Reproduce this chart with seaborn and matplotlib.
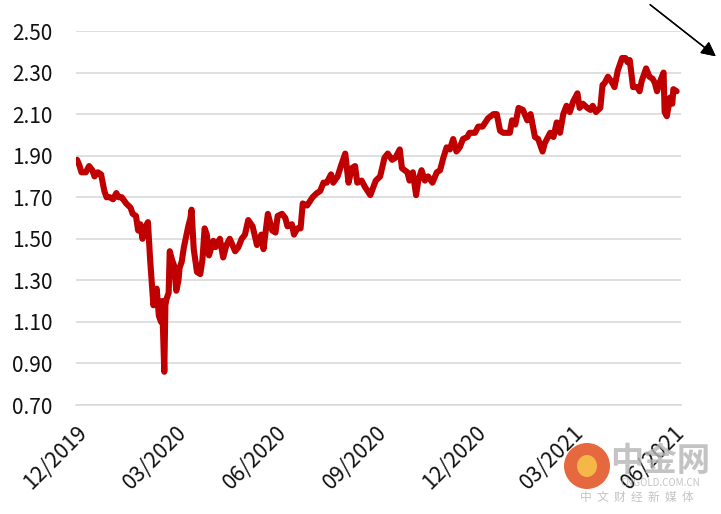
import pandas as pd
import matplotlib.pyplot as plt
import matplotlib.dates as mdates
from matplotlib.patches import Ellipse
import seaborn as sns

# Data
dates = [
    "2019-12-02", "2019-12-04", "2019-12-06", "2019-12-10", "2019-12-13", "2019-12-16",
    "2019-12-18", "2019-12-21", "2019-12-24", "2019-12-27", "2019-12-29", "2020-01-01",
    "2020-01-04", "2020-01-07", "2020-01-09", "2020-01-12", "2020-01-16", "2020-01-20",
    "2020-01-22", "2020-01-25", "2020-01-27", "2020-01-29", "2020-01-31", "2020-02-01",
    "2020-02-03", "2020-02-05", "2020-02-07", "2020-02-09", "2020-02-10", "2020-02-11",
    "2020-02-13", "2020-02-15", "2020-02-17", "2020-02-18", "2020-02-20", "2020-02-21",
    "2020-02-22", "2020-02-24", "2020-02-25", "2020-02-27", "2020-02-29", "2020-03-02",
    "2020-03-04", "2020-03-05", "2020-03-07", "2020-03-09", "2020-03-11", "2020-03-13",
    "2020-03-15", "2020-03-16", "2020-03-18", "2020-03-21", "2020-03-24", "2020-03-26",
    "2020-03-28", "2020-03-30", "2020-04-01", "2020-04-05", "2020-04-07", "2020-04-11",
    "2020-04-14", "2020-04-17", "2020-04-20", "2020-04-25", "2020-04-28", "2020-05-01",
    "2020-05-04", "2020-05-07", "2020-05-11", "2020-05-15", "2020-05-19", "2020-05-21",
    "2020-05-25", "2020-05-29", "2020-06-01", "2020-06-03", "2020-06-07", "2020-06-10",
    "2020-06-12", "2020-06-16", "2020-06-18", "2020-06-21", "2020-06-24", "2020-06-26",
    "2020-06-30", "2020-07-05", "2020-07-09", "2020-07-12", "2020-07-15", "2020-07-18",
    "2020-07-22", "2020-07-24", "2020-07-28", "2020-07-31", "2020-08-04", "2020-08-07",
    "2020-08-10", "2020-08-13", "2020-08-15", "2020-08-19", "2020-08-22", "2020-08-27",
    "2020-09-01", "2020-09-05", "2020-09-09", "2020-09-12", "2020-09-16", "2020-09-19",
    "2020-09-23", "2020-09-25", "2020-09-30", "2020-10-02", "2020-10-05", "2020-10-08",
    "2020-10-10", "2020-10-13", "2020-10-16", "2020-10-19", "2020-10-23", "2020-10-27",
    "2020-10-30", "2020-11-02", "2020-11-05", "2020-11-08", "2020-11-11", "2020-11-14",
    "2020-11-17", "2020-11-20", "2020-11-24", "2020-11-26", "2020-12-01", "2020-12-04",
    "2020-12-08", "2020-12-13", "2020-12-18", "2020-12-21", "2020-12-24", "2020-12-27",
    "2020-12-30", "2021-01-02", "2021-01-04", "2021-01-07", "2021-01-10", "2021-01-14",
    "2021-01-18", "2021-01-21", "2021-01-25", "2021-01-28", "2021-02-01", "2021-02-03",
    "2021-02-08", "2021-02-11", "2021-02-14", "2021-02-17", "2021-02-20", "2021-02-23",
    "2021-02-26", "2021-03-01", "2021-03-05", "2021-03-07", "2021-03-10", "2021-03-14",
    "2021-03-17", "2021-03-19", "2021-03-22", "2021-03-26", "2021-03-28", "2021-03-30",
    "2021-04-02", "2021-04-06", "2021-04-08", "2021-04-11", "2021-04-15", "2021-04-18",
    "2021-04-20", "2021-04-22", "2021-04-25", "2021-04-29", "2021-05-01", "2021-05-03",
    "2021-05-07", "2021-05-10", "2021-05-13", "2021-05-15", "2021-05-17", "2021-05-20",
    "2021-05-23", "2021-05-24", "2021-05-26", "2021-05-29", "2021-05-31", "2021-06-01",
    "2021-06-04",
]
values = [
    1.88, 1.855, 1.82, 1.82, 1.85, 1.83,
    1.80, 1.82, 1.81, 1.73, 1.70, 1.70,
    1.69, 1.72, 1.70, 1.70, 1.67, 1.65,
    1.62, 1.61, 1.54, 1.57, 1.50, 1.53,
    1.56, 1.58, 1.40, 1.25, 1.18, 1.20,
    1.26, 1.13, 1.10, 1.20, 0.86, 1.18,
    1.21, 1.24, 1.44, 1.40, 1.37, 1.25,
    1.30, 1.36, 1.39, 1.46, 1.51, 1.56,
    1.60, 1.64, 1.45, 1.34, 1.33, 1.40,
    1.55, 1.52, 1.42, 1.49, 1.46, 1.50,
    1.41, 1.47, 1.50, 1.44, 1.46, 1.50,
    1.52, 1.59, 1.56, 1.47, 1.52, 1.45,
    1.62, 1.54, 1.53, 1.61, 1.62, 1.60,
    1.56, 1.57, 1.52, 1.55, 1.55, 1.67,
    1.66, 1.70, 1.72, 1.73, 1.77, 1.77,
    1.81, 1.77, 1.80, 1.85, 1.91, 1.77,
    1.84, 1.85, 1.77, 1.78, 1.75, 1.71,
    1.78, 1.80, 1.89, 1.91, 1.88, 1.89,
    1.93, 1.84, 1.82, 1.78, 1.82, 1.71,
    1.78, 1.83, 1.78, 1.80, 1.77, 1.82,
    1.83, 1.89, 1.94, 1.93, 1.98, 1.92,
    1.94, 1.98, 1.99, 2.01, 2.01, 2.04,
    2.04, 2.08, 2.10, 2.10, 2.02, 2.01,
    2.01, 2.01, 2.07, 2.05, 2.13, 2.12,
    2.07, 2.10, 1.99, 1.98, 1.92, 1.96,
    2.01, 1.99, 2.06, 2.01, 2.10, 2.14,
    2.11, 2.16, 2.20, 2.13, 2.15, 2.13,
    2.12, 2.14, 2.11, 2.13, 2.24, 2.25,
    2.28, 2.25, 2.23, 2.31, 2.37, 2.37,
    2.35, 2.36, 2.23, 2.23, 2.21, 2.26,
    2.32, 2.28, 2.27, 2.25, 2.21, 2.26,
    2.30, 2.11, 2.09, 2.18, 2.15, 2.22,
    2.21,
]
y_ticks = [0.70, 0.90, 1.10, 1.30, 1.50, 1.70, 1.90, 2.10, 2.30, 2.50]

df = pd.DataFrame({"date": pd.to_datetime(dates), "value": values})

sns.set_style("white")
plt.rcParams["font.family"] = ["Noto Sans CJK SC", "DejaVu Sans"]

fig = plt.figure(figsize=(7.21, 5.14), dpi=100)
ax = fig.add_axes([76 / 721, 109 / 514, 605 / 721, 374 / 514])

sns.lineplot(data=df, x="date", y="value", ax=ax, color="#C00000",
             linewidth=4.4, solid_joinstyle="round", solid_capstyle="round")

ax.set_ylim(0.70, 2.50)
ax.set_yticks(y_ticks)
ax.set_yticklabels([f"{v:.2f}" for v in y_ticks])
ax.set_xlim(pd.Timestamp("2019-12-01"), pd.Timestamp("2021-06-08"))
ax.xaxis.set_major_locator(mdates.MonthLocator(bymonth=[3, 6, 9, 12]))
ax.xaxis.set_major_formatter(mdates.DateFormatter("%m/%Y"))

ax.grid(axis="y", color="#d9d9d9", linewidth=1.2)
ax.grid(axis="x", visible=False)
ax.set_axisbelow(True)
for side in ["top", "right", "left"]:
    ax.spines[side].set_visible(False)
ax.spines["bottom"].set_color("#d9d9d9")
ax.spines["bottom"].set_linewidth(1.2)

ax.tick_params(axis="y", length=0, pad=17, labelsize=15, labelcolor="#111111")
ax.tick_params(axis="x", length=4, width=1.2, color="#d9d9d9", pad=8,
               labelsize=15.5, labelcolor="#111111")
for lbl in ax.get_xticklabels():
    lbl.set_rotation(45)
    lbl.set_ha("right")
    lbl.set_va("top")
    lbl.set_rotation_mode("anchor")
ax.set_xlabel("")
ax.set_ylabel("")

# arrow in the top-right corner
fig.add_artist(plt.annotate("", xy=(718 / 721, 1 - 58 / 514), xytext=(648 / 721, 1 - 3 / 514),
                            xycoords="figure fraction", textcoords="figure fraction",
                            arrowprops=dict(arrowstyle="-|>", color="black", lw=1,
                                            mutation_scale=22)))

# faint watermark
fig.add_artist(Ellipse((587 / 721, 1 - 466 / 514), 46 / 721, 46 / 514, transform=fig.transFigure,
                       facecolor="#e4572a", edgecolor="none", alpha=0.9))
fig.add_artist(Ellipse((587 / 721, 1 - 466 / 514), 20 / 721, 22 / 514, transform=fig.transFigure,
                       facecolor="#f6c04a", edgecolor="none", alpha=0.9))
fig.text(660 / 721, 1 - 461 / 514, "中金网", fontsize=24, color="#b5b5b5",
         ha="center", va="center", alpha=0.8, fontweight="bold")
fig.text(660 / 721, 1 - 483 / 514, "CNGOLD.COM.CN", fontsize=7, color="#b5b5b5",
         ha="center", va="center", alpha=0.8)
fig.text(637 / 721, 1 - 497 / 514, "中  文  财  经  新  媒  体", fontsize=8.5, color="#b5b5b5",
         ha="center", va="center", alpha=0.8)

plt.savefig("out.png", dpi=100)
